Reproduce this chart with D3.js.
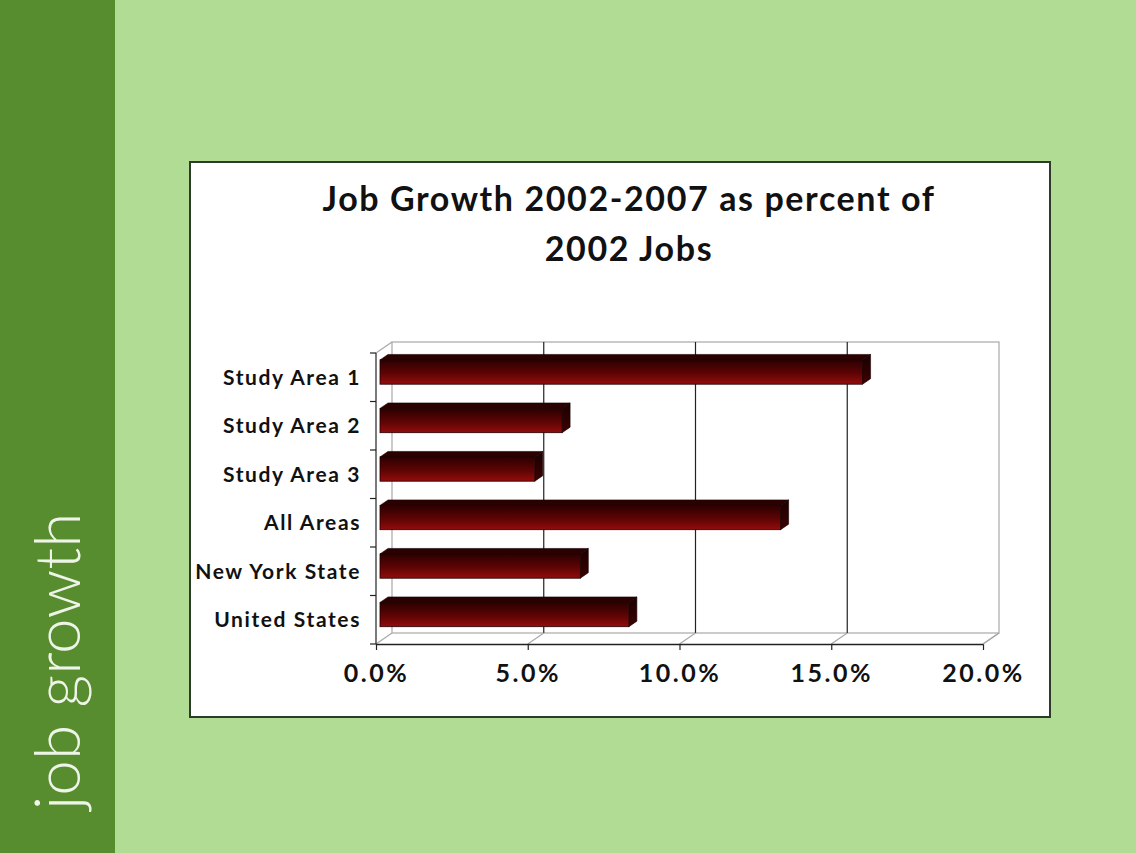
<!DOCTYPE html>
<html>
<head>
<meta charset="utf-8">
<script src="https://cdn.jsdelivr.net/npm/d3@7"></script>
<style>
  html, body { margin: 0; padding: 0; background: #b1dc94; }
  svg { display: block; }
</style>
</head>
<body>
<div id="chart"></div>
<script>
// data
const categories = ["Study Area 1", "Study Area 2", "Study Area 3", "All Areas", "New York State", "United States"];
const growth = [0.159, 0.060, 0.051, 0.132, 0.066, 0.082];
const xTicks = [0, 0.05, 0.10, 0.15, 0.20];
const titleLines = ["Job Growth 2002-2007 as percent of", "2002 Jobs"];
const sideLabel = "job growth";

const width = 1136;
const height = 853;
const font = "Lato, 'DejaVu Sans', sans-serif";

const svg = d3.select("#chart")
  .append("svg")
  .attr("width", width)
  .attr("height", height);

//gradients
const defs = svg.append("defs");
const gFront = defs.append("linearGradient")
  .attr("id", "barFront").attr("x1", 0).attr("y1", 0).attr("x2", 0).attr("y2", 1);
gFront.append("stop").attr("offset", "0%").attr("stop-color", "#2c0000");
gFront.append("stop").attr("offset", "55%").attr("stop-color", "#5e0404");
gFront.append("stop").attr("offset", "100%").attr("stop-color", "#930c0c");
const gSide = defs.append("linearGradient")
  .attr("id", "barSide").attr("x1", 0).attr("y1", 0).attr("x2", 0).attr("y2", 1);
gSide.append("stop").attr("offset", "0%").attr("stop-color", "#1a0000");
gSide.append("stop").attr("offset", "100%").attr("stop-color", "#3c0202");

//background
svg.append("rect").attr("width", width).attr("height", height).attr("fill", "#b1dc94");
svg.append("rect").attr("width", 115).attr("height", height).attr("fill", "#578c2f");

svg.append("text")
  .attr("transform", `translate(80,${810})rotate(-90)`)
  .attr("font-family", "Lato, 'Open Sans', sans-serif")
  .attr("font-weight", 300)
  .attr("font-size", 64)
  .attr("fill", "#eef5e8")
  .text(sideLabel);

//chart box
svg.append("rect")
  .attr("x", 190).attr("y", 162)
  .attr("width", 860).attr("height", 555)
  .attr("fill", "#ffffff")
  .attr("stroke", "#2f3b2a")
  .attr("stroke-width", 2);

//title
svg.append("g")
  .selectAll("text")
  .data(titleLines)
  .join("text")
  .attr("x", 629)
  .attr("y", (d, i) => 211 + i * 50)
  .attr("text-anchor", "middle")
  .attr("font-family", font)
  .attr("font-weight", 700)
  .attr("font-size", 34)
  .attr("letter-spacing", 1.6)
  .attr("fill", "#111")
  .text((d) => d);

//3D scales
const depth = { dx: 16, dy: -11 };
const x = d3.scaleLinear().domain([0, 0.2]).range([376, 983]);
const y = d3.scaleBand()
  .domain(categories)
  .range([353, 644])
  .paddingInner(0.5)
  .paddingOuter(0.25)
  .align(0.4);

const [y0, y1] = y.range();
const [x0, x1] = x.range();

const g3d = svg.append("g");

//back wall
g3d.append("rect")
  .attr("x", x0 + depth.dx).attr("y", y0 + depth.dy)
  .attr("width", x1 - x0).attr("height", y1 - y0)
  .attr("fill", "#fff")
  .attr("stroke", "#a8a8a8")
  .attr("stroke-width", 1.2);

//gridlines
g3d.selectAll("line.grid")
  .data(xTicks.slice(1, -1))
  .join("line")
  .attr("class", "grid")
  .attr("x1", (d) => x(d) + depth.dx).attr("x2", (d) => x(d) + depth.dx)
  .attr("y1", y0 + depth.dy).attr("y2", y1 + depth.dy)
  .attr("stroke", "#222")
  .attr("stroke-width", 1.2);

//floor diagonals
g3d.selectAll("line.floor")
  .data(xTicks)
  .join("line")
  .attr("class", "floor")
  .attr("x1", (d) => x(d)).attr("y1", y1)
  .attr("x2", (d) => x(d) + depth.dx).attr("y2", y1 + depth.dy)
  .attr("stroke", "#a8a8a8")
  .attr("stroke-width", 1.2);

//left wall top edge
g3d.append("line")
  .attr("x1", x0).attr("y1", y0)
  .attr("x2", x0 + depth.dx).attr("y2", y0 + depth.dy)
  .attr("stroke", "#a8a8a8")
  .attr("stroke-width", 1.2);

//bars
const fFront = 0.25;
const fBack = 0.75;
const bar = g3d.selectAll("g.bar")
  .data(categories.map((c, i) => ({ cat: c, value: growth[i] })))
  .join("g")
  .attr("class", "bar");

bar.each(function (d) {
  const g = d3.select(this);
  const ox = depth.dx * fFront;
  const oy = depth.dy * fFront;
  const bx = depth.dx * (fBack - fFront);
  const by = depth.dy * (fBack - fFront);
  const xa = x(0) + ox;
  const xb = x(d.value) + ox;
  const ya = y(d.cat) + oy;
  const yb = ya + y.bandwidth();

  //top face
  g.append("path")
    .attr("d", `M${xa},${ya}L${xa + bx},${ya + by}L${xb + bx},${ya + by}L${xb},${ya}Z`)
    .attr("fill", "#2a0000")
    .attr("stroke", "#1a0000")
    .attr("stroke-width", 0.6);
  //side face
  g.append("path")
    .attr("d", `M${xb},${ya}L${xb + bx},${ya + by}L${xb + bx},${yb + by}L${xb},${yb}Z`)
    .attr("fill", "url(#barSide)")
    .attr("stroke", "#1a0000")
    .attr("stroke-width", 0.6);
  //front face
  g.append("rect")
    .attr("x", xa).attr("y", ya)
    .attr("width", xb - xa).attr("height", yb - ya)
    .attr("fill", "url(#barFront)")
    .attr("stroke", "#1f0000")
    .attr("stroke-width", 0.8);
});

//y axis line with ticks on band boundaries
g3d.append("line")
  .attr("x1", x0).attr("x2", x0)
  .attr("y1", y0).attr("y2", y1)
  .attr("stroke", "#222")
  .attr("stroke-width", 1.2);

g3d.selectAll("line.ytick")
  .data(d3.range(categories.length + 1))
  .join("line")
  .attr("class", "ytick")
  .attr("x1", x0 - 6).attr("x2", x0)
  .attr("y1", (i) => y0 + i * y.step())
  .attr("y2", (i) => y0 + i * y.step())
  .attr("stroke", "#222")
  .attr("stroke-width", 1.2);

g3d.selectAll("text.ylabel")
  .data(categories)
  .join("text")
  .attr("class", "ylabel")
  .attr("x", x0 - 15)
  .attr("y", (d, i) => y0 + (i + 0.5) * y.step())
  .attr("dy", "0.35em")
  .attr("text-anchor", "end")
  .attr("font-family", font)
  .attr("font-weight", 700)
  .attr("font-size", 21)
  .attr("letter-spacing", 1.6)
  .attr("fill", "#111")
  .text((d) => d);

//x axis
const xAxis = d3.axisBottom(x)
  .tickValues(xTicks)
  .tickFormat(d3.format(".1%"))
  .tickSize(6)
  .tickSizeOuter(0)
  .tickPadding(14);

const gx = g3d.append("g")
  .attr("transform", `translate(0,${y1})`)
  .call(xAxis);

gx.select(".domain").attr("stroke", "#222").attr("stroke-width", 1.4);
gx.selectAll(".tick line").attr("stroke", "#222").attr("stroke-width", 1.2);
gx.selectAll(".tick text")
  .attr("font-family", font)
  .attr("font-weight", 700)
  .attr("font-size", 25)
  .attr("letter-spacing", 2.5)
  .attr("fill", "#111");

//floor right edge
g3d.append("line")
  .attr("x1", x1).attr("y1", y1)
  .attr("x2", x1 + depth.dx).attr("y2", y1 + depth.dy)
  .attr("stroke", "#a8a8a8")
  .attr("stroke-width", 1.2);
</script>
</body>
</html>
